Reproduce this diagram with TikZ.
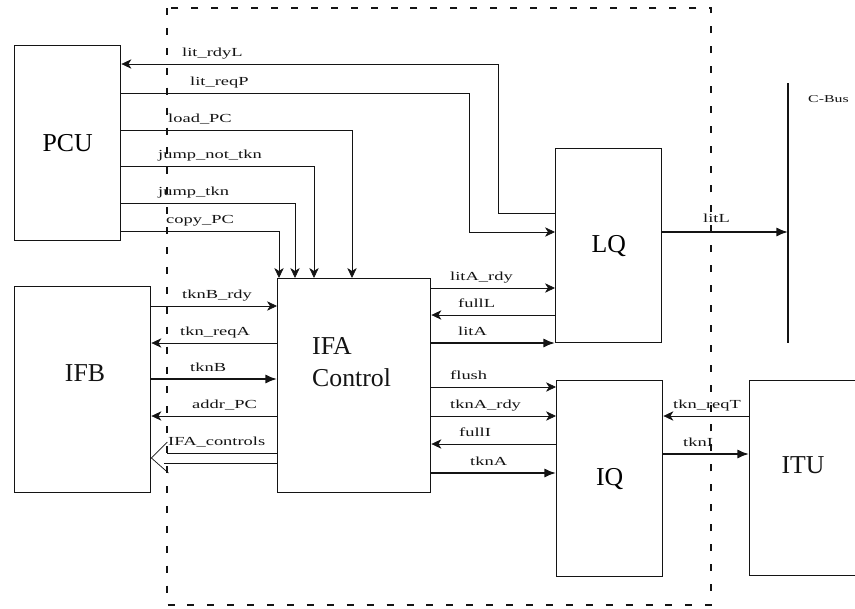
\documentclass[tikz,border=0pt]{standalone}
\usepackage{fontspec}
\setmainfont{Liberation Serif}
\newfontfamily\sigfont[FakeStretch=1.5]{Liberation Serif}
\usetikzlibrary{arrows.meta, calc, positioning}
\definecolor{Ink}{HTML}{141414}
\definecolor{Paper}{HTML}{FFFFFF}
\tikzset{
    block/.style={draw=Ink, line width=1.2pt, inner sep=0pt, anchor=north west, font=\fontsize{22}{26}\selectfont},
    blocktext/.style={font=\fontsize{22}{27}\selectfont, text=Ink, inner sep=0pt, align=left},
    sigfwd/.style={-{Stealth[length=8.5pt,width=8pt,inset=2.5pt]}, line width=0.6pt, color=Ink},
    sigrev/.style={{Stealth[length=8.5pt,width=8pt,inset=2.5pt]}-, line width=0.6pt, color=Ink},
    busfwd/.style={-{Latex[length=10pt,width=8pt]}, line width=1.8pt, color=Ink},
    siglabel/.style={font=\sigfont\fontsize{10.5}{12}\selectfont, text=Ink, anchor=base west, inner sep=0pt},
    boundary/.style={dash pattern=on 6pt off 11pt, line width=0.9pt, color=Ink},
}
\begin{document}
\begin{tikzpicture}[x=0.03cm, y=-0.03cm]
    \path[use as bounding box, fill=Paper] (0,0) rectangle (855,609);

    % IFA boundary
    \draw[boundary] (167,8) rectangle (711,605);

    % Blocks
    \node[block, minimum width=3.18cm, minimum height=5.85cm] (pcu) at (14,45) {PCU};
    \node[block, minimum width=4.08cm, minimum height=6.18cm] (ifb) at (14,286) {};
    \node[block, minimum width=4.59cm, minimum height=6.42cm] (ifa) at (277,278) {};
    \node[block, minimum width=3.18cm, minimum height=5.82cm] (lq) at (555,148) {LQ};
    \node[block, minimum width=3.18cm, minimum height=5.88cm] (iq) at (556,380) {IQ};
    \node[block, minimum width=3.3cm, minimum height=5.85cm] (itu) at (749,380) {};
    \node[blocktext] (ifbText) at (85,373) {IFB};
    \node[blocktext, anchor=west] (ifaText) at (312,362) {IFA\\Control};
    \node[blocktext] (ituText) at (803,465) {ITU};

    % C-Bus
    \coordinate (cbusTop) at (788,83);
    \coordinate (cbusBot) at (788,343);
    \draw[Ink, line width=1.3pt] (cbusTop) -- (cbusBot);
    \node[siglabel, font=\sigfont\fontsize{9}{10}\selectfont] (cbusText) at (808,102) {C-Bus};

    % PCU <-> LQ
    \draw[sigrev] (pcu.east |- 0,64) -| (498,213) -- (lq.west |- 0,213);
    \draw[sigfwd] (pcu.east |- 0,93) -| (469,232) -- (lq.west |- 0,232);
    \node[siglabel] (lblRdyL) at (182,56) {lit\_rdyL};
    \node[siglabel] (lblReqP) at (190,85) {lit\_reqP};

    % PCU -> IFA
    \foreach \y/\x/\lbl/\lx in {130/352/load\_PC/168, 166/314/jump\_not\_tkn/158,
                                203/295/jump\_tkn/158, 231/279/copy\_PC/166} {
        \draw[sigfwd] (pcu.east |- 0,\y) -| (ifa.north -| \x,0);
        \node[siglabel] (lbl\y) at (\lx,\y-8) {\lbl};
    }

    % IFB <-> IFA
    \foreach \y/\sty/\lbl/\lx in {306/sigfwd/tknB\_rdy/182, 343/sigrev/tkn\_reqA/180,
                                  379/busfwd/tknB/190, 416/sigrev/addr\_PC/192} {
        \draw[\sty] (ifb.east |- 0,\y) -- (ifa.west |- 0,\y);
        \node[siglabel] (lblB\y) at (\lx,\y-8) {\lbl};
    }
    \coordinate (ctlTip) at (ifb.east |- 0,458);
    \draw[Ink, line width=0.6pt] (ifa.west |- 0,453) -- (167,453);
    \draw[Ink, line width=0.6pt] (ifa.west |- 0,463) -- (164,463);
    \draw[Ink, line width=0.6pt] ($(ctlTip)+(16,-16)$) -- (ctlTip) -- ($(ctlTip)+(17,15)$);
    \node[siglabel] (lblCtl) at (168,445) {IFA\_controls};

    % IFA <-> LQ
    \foreach \y/\sty/\lbl/\lx in {288/sigfwd/litA\_rdy/450, 315/sigrev/fullL/458,
                                  343/busfwd/litA/458} {
        \draw[\sty] (ifa.east |- 0,\y) -- (lq.west |- 0,\y);
        \node[siglabel] (lblL\y) at (\lx,\y-8) {\lbl};
    }

    % IFA <-> IQ
    \foreach \y/\sty/\lbl/\lx in {387/sigfwd/flush/450, 416/sigfwd/tknA\_rdy/450,
                                  444/sigrev/fullI/459, 473/busfwd/tknA/470} {
        \draw[\sty] (ifa.east |- 0,\y) -- (iq.west |- 0,\y);
        \node[siglabel] (lblI\y) at (\lx,\y-8) {\lbl};
    }

    % LQ -> C-Bus
    \draw[busfwd] (lq.east |- 0,232) -- (cbusTop |- 0,232);
    \node[siglabel] (lblLitL) at (703,222) {litL};

    % IQ <-> ITU
    \draw[sigrev] (iq.east |- 0,416) -- (itu.west |- 0,416);
    \node[siglabel] (lblReqT) at (673,408) {tkn\_reqT};
    \draw[busfwd] (iq.east |- 0,454) -- (itu.west |- 0,454);
    \node[siglabel] (lblTknI) at (683,446) {tknI};
\end{tikzpicture}
\end{document}
